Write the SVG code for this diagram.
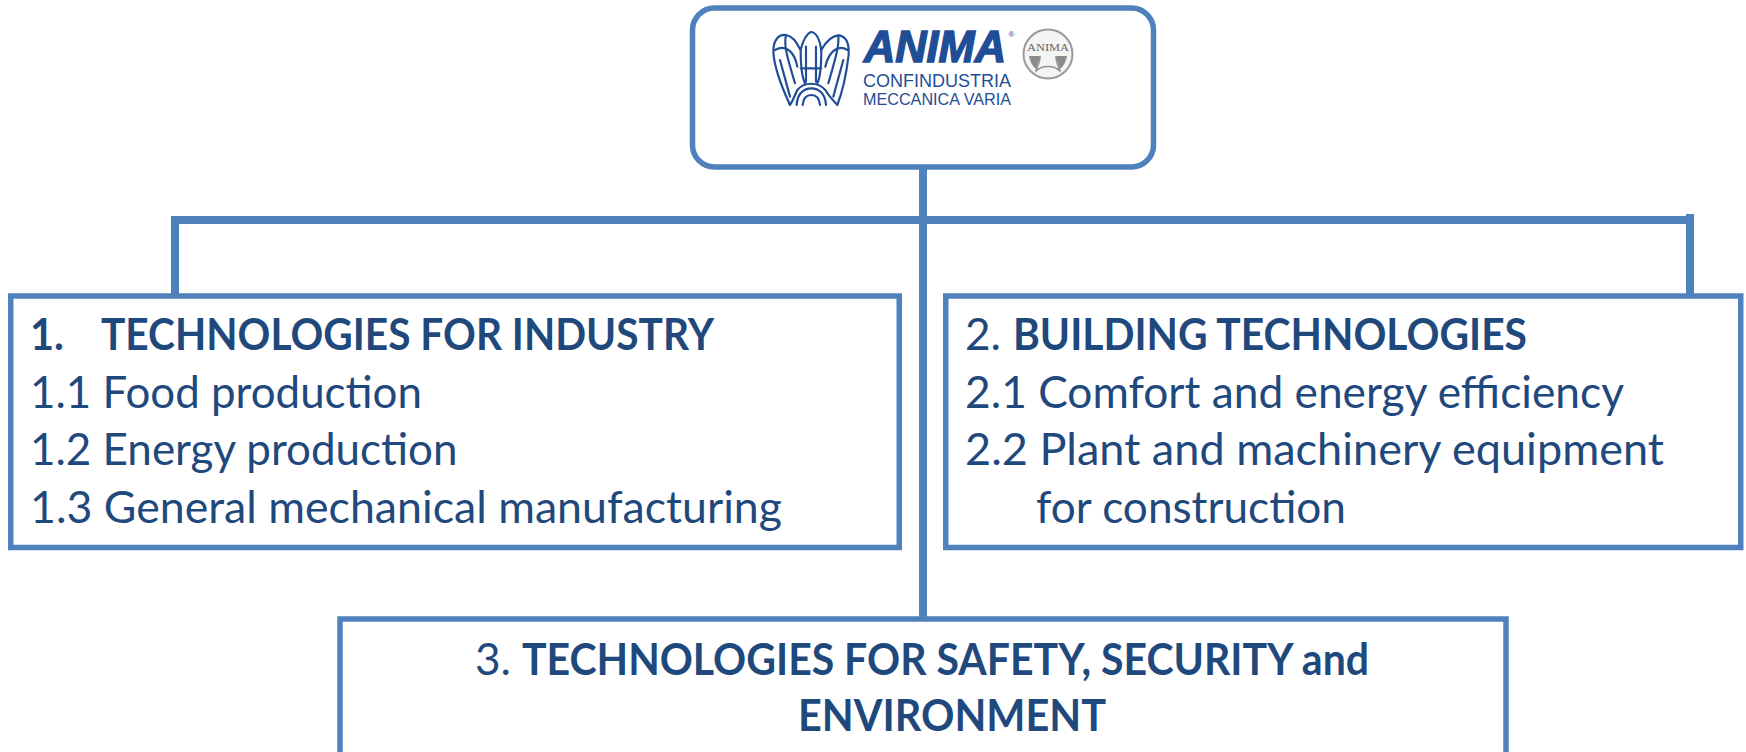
<svg xmlns="http://www.w3.org/2000/svg" width="1746" height="752" viewBox="0 0 1746 752">
<style>
.box{fill:#fff;stroke:#4F81BD;stroke-width:5.5}
.con{fill:none;stroke:#4F81BD;stroke-width:8}
.t{font-family:"Lato","Open Sans","Liberation Sans",sans-serif;font-size:44px;fill:#1F497D}
.b{font-weight:700}
.lg{font-family:"Liberation Sans",Arial,sans-serif;fill:#1F4E96}
.e{fill:none;stroke:#1F4E96;stroke-width:6.500;stroke-linejoin:round;stroke-linecap:round}
</style>
<rect width="1746" height="752" fill="#fff"/>
<g id="connectors">
<path class="con" d="M923 167V620"/>
<path class="con" d="M175 295V220H1690"/>
<path class="con" d="M1690 214V295"/>
</g>
<g id="root">
<rect class="box" x="692.500" y="8" width="461" height="159" rx="22"/>
<g id="logo">
<g transform="translate(680 0) scale(.3333)">
<path class="e" d="M330 315C300 250 282 200 280 155C280 120 295 103 318 105C345 110 352 135 362 150C368 125 378 103 392 96C408 96 418 112 424 150C435 130 450 108 475 106C498 108 508 130 506 165C500 215 490 270 472 315C458 300 445 285 436 270C415 245 372 245 352 270C345 285 340 300 330 315Z"/>
<path class="e" d="M285 150C320 130 345 160 352 200M318 105C310 140 325 180 345 250M362 150C362 200 365 230 375 250M424 150C424 200 422 230 412 250M475 106C478 140 465 180 445 250M503 150C470 130 445 160 436 200M378 140V245M408 140V245M362 205H424M300 180L330 290M490 180L460 290"/>
<path class="e" d="M350 315C352 280 372 265 394 265C416 265 436 280 438 315M368 315C370 295 380 285 394 285C408 285 418 295 420 315"/>
</g>
<text class="lg" x="864" y="62" font-size="44" font-weight="700" font-style="italic" stroke="#1F4E96" stroke-width="1.500" textLength="142" lengthAdjust="spacingAndGlyphs">ANIMA</text>
<text class="lg" x="1008.500" y="37" font-size="8">®</text>
<text class="lg" x="863" y="87" font-size="19" textLength="148" lengthAdjust="spacingAndGlyphs">CONFINDUSTRIA</text>
<text class="lg" x="863" y="105" font-size="16.500" textLength="148" lengthAdjust="spacingAndGlyphs">MECCANICA VARIA</text>
<circle cx="1048" cy="54" r="24.500" fill="#f4f4f4" stroke="#9a9a9a" stroke-width="2"/>
<text x="1048" y="51" font-family="Liberation Serif,serif" font-size="11" fill="#666" text-anchor="middle" textLength="42" lengthAdjust="spacingAndGlyphs">ANIMA</text>
<path d="M1029 56H1040L1036 69C1032 66 1030 61 1029 56ZM1067 56H1056L1060 69C1064 66 1066 61 1067 56Z" fill="#8c8c8c"/>
<path d="M1040 56C1040 63 1036 69 1036 71C1042 65 1054 65 1060 71C1060 69 1056 63 1056 56" fill="none" stroke="#8c8c8c" stroke-width="1.500"/>
</g>
</g>
<g id="node1">
<rect class="box" x="10.750" y="296" width="888.500" height="251.500"/>
<text class="t b" x="30" y="350" textLength="34" lengthAdjust="spacingAndGlyphs">1.</text>
<text class="t b" x="101" y="350" textLength="613" lengthAdjust="spacingAndGlyphs">TECHNOLOGIES FOR INDUSTRY</text>
<text class="t" x="30" y="408" textLength="392" lengthAdjust="spacingAndGlyphs">1.1 Food production</text>
<text class="t" x="30" y="465" textLength="427.500" lengthAdjust="spacingAndGlyphs">1.2 Energy production</text>
<text class="t" x="30" y="523" textLength="752" lengthAdjust="spacingAndGlyphs">1.3 General mechanical manufacturing</text>
</g>
<g id="node2">
<rect class="box" x="945.750" y="296" width="795" height="251.500"/>
<text class="t" x="965" y="350" textLength="36" lengthAdjust="spacingAndGlyphs">2.</text>
<text class="t b" x="1013" y="350" textLength="514" lengthAdjust="spacingAndGlyphs">BUILDING TECHNOLOGIES</text>
<text class="t" x="965" y="408" textLength="659" lengthAdjust="spacingAndGlyphs">2.1 Comfort and energy efficiency</text>
<text class="t" x="965" y="465" textLength="699" lengthAdjust="spacingAndGlyphs">2.2 Plant and machinery equipment</text>
<text class="t" x="1036" y="523" textLength="310" lengthAdjust="spacingAndGlyphs">for construction</text>
</g>
<g id="node3">
<rect class="box" x="340" y="619" width="1166" height="160"/>
<text class="t" x="475" y="675" textLength="36" lengthAdjust="spacingAndGlyphs">3.</text>
<text class="t b" x="522" y="675" textLength="847" lengthAdjust="spacingAndGlyphs">TECHNOLOGIES FOR SAFETY, SECURITY and</text>
<text class="t b" x="798" y="731" textLength="308" lengthAdjust="spacingAndGlyphs">ENVIRONMENT</text>
</g>
</svg>
